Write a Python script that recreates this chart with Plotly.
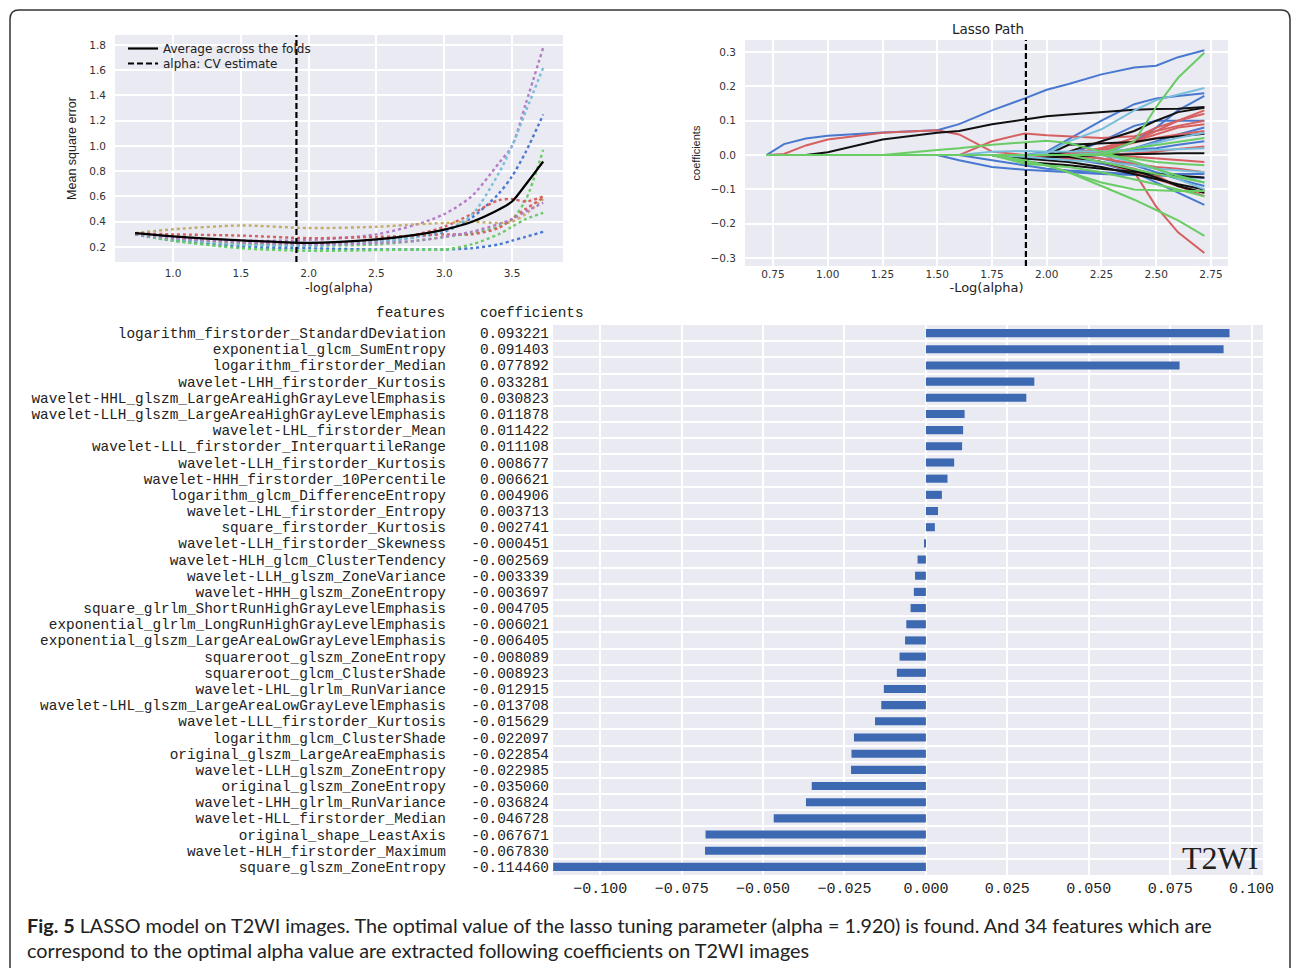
import plotly.graph_objects as go

W, H = 1292, 968
def px(x): return x / W
def py(y): return 1 - y / H

# ---------------- CV curves (top-left) ----------------
cv_x = [0.72, 1.0, 1.5, 2.0, 2.5, 2.8, 3.0, 3.2, 3.4, 3.5, 3.6, 3.73]
cv_mean = [0.31, 0.284, 0.253, 0.232, 0.26, 0.298, 0.337, 0.398, 0.495, 0.56, 0.693, 0.877]
fold_blue_1 = [0.30, 0.27, 0.23, 0.22, 0.24, 0.28, 0.32, 0.43, 0.62, 0.76, 0.95, 1.25]
fold_green_1 = [0.30, 0.26, 0.22, 0.21, 0.22, 0.25, 0.28, 0.31, 0.36, 0.42, 0.57, 0.97]
fold_red_1 = [0.31, 0.27, 0.24, 0.23, 0.25, 0.30, 0.36, 0.46, 0.57, 0.58, 0.56, 0.60]
fold_purple_1 = [0.31, 0.28, 0.25, 0.255, 0.30, 0.38, 0.46, 0.60, 0.86, 1.0, 1.33, 1.78]
fold_yellow = [0.31, 0.34, 0.37, 0.35, 0.36, 0.38, 0.39, 0.40, 0.39, 0.40, 0.46, 0.58]
fold_cyan = [0.30, 0.26, 0.215, 0.21, 0.24, 0.28, 0.33, 0.45, 0.78, 1.0, 1.27, 1.62]
fold_blue_2 = [0.30, 0.25, 0.20, 0.19, 0.18, 0.18, 0.18, 0.19, 0.22, 0.25, 0.28, 0.32]
fold_green_2 = [0.30, 0.25, 0.19, 0.17, 0.175, 0.18, 0.18, 0.22, 0.30, 0.36, 0.42, 0.47]
fold_red_2 = [0.31, 0.30, 0.29, 0.27, 0.28, 0.29, 0.30, 0.30, 0.35, 0.42, 0.50, 0.59]
fold_purple_2 = [0.30, 0.27, 0.24, 0.22, 0.23, 0.25, 0.28, 0.32, 0.38, 0.42, 0.48, 0.55]
cv_alpha = 1.91

# ---------------- Lasso path (top-right) ----------------
path_x = [0.72, 0.8, 0.9, 1.0, 1.25, 1.5, 1.6, 1.75, 1.9, 2.0, 2.1, 2.25, 2.4, 2.5, 2.6, 2.72]
paths_blue = [
    [0, 0.032, 0.048, 0.056, 0.066, 0.072, 0.09, 0.13, 0.165, 0.19, 0.207, 0.235, 0.255, 0.26, 0.285, 0.305],
    [0, 0, 0, 0, 0, 0, 0, 0, 0, 0.01, 0.045, 0.1, 0.148, 0.165, 0.172, 0.18],
    [0, 0, 0, 0, 0, 0, 0, 0, 0, 0, 0, 0, 0.04, 0.08, 0.13, 0.172],
    [0, 0, 0, 0, 0, 0, 0, 0, 0, 0, 0, 0.04, 0.085, 0.1, 0.1, 0.1],
    [0, 0, 0, 0, 0, 0, 0, 0, 0, 0, 0.003, 0.01, 0.015, 0.02, 0.03, 0.04],
    [0, 0, 0, 0, 0, 0, -0.015, -0.035, -0.043, -0.047, -0.05, -0.055, -0.058, -0.055, -0.055, -0.055],
    [0, 0, 0, 0, 0, 0, 0, -0.015, -0.03, -0.04, -0.045, -0.05, -0.055, -0.06, -0.063, -0.067],
    [0, 0, 0, 0, 0, 0, 0, 0, 0, 0, -0.01, -0.025, -0.05, -0.08, -0.11, -0.145],
    [0, 0, 0, 0, 0, 0, 0, 0, 0, 0, 0, -0.01, -0.03, -0.05, -0.07, -0.09],
    [0, 0, 0, 0, 0, 0, 0, 0, 0, 0, 0, 0, 0.02, 0.04, 0.06, 0.08],
]
paths_red = [
    [0, 0.003, 0.028, 0.045, 0.065, 0.072, 0.06, 0.01, 0.0, -0.005, -0.01, -0.02, -0.04, -0.06, -0.09, -0.12],
    [0, 0, 0, 0, 0, 0, 0, 0.04, 0.063, 0.058, 0.055, 0.05, 0.055, 0.07, 0.085, 0.1],
    [0, 0, 0, 0, 0, 0, 0, 0, 0, 0, 0, 0.005, -0.05, -0.15, -0.225, -0.285],
    [0, 0, 0, 0, 0, 0, 0, 0, 0, 0, 0, 0.02, 0.05, 0.08, 0.1, 0.13],
    [0, 0, 0, 0, 0, 0, 0, 0, 0, 0, 0.005, 0.02, 0.04, 0.06, 0.08, 0.09],
    [0, 0, 0, 0, 0, 0, 0, 0, 0, 0, 0, 0.015, 0.035, 0.05, 0.06, 0.07],
    [0, 0, 0, 0, 0, 0, 0, 0, 0, 0, -0.005, -0.02, -0.05, -0.07, -0.09, -0.11],
    [0, 0, 0, 0, 0, 0, 0, 0, 0, 0, 0, -0.01, -0.025, -0.035, -0.04, -0.05],
    [0, 0, 0, 0, 0, 0, 0, 0, 0, 0, 0, 0, 0.005, 0.01, 0.018, 0.025],
    [0, 0, 0, 0, 0, 0, 0, 0, 0, 0, 0, 0, -0.005, -0.01, -0.015, -0.02],
    [0, 0, 0, 0, 0, 0, 0, 0, 0, 0, 0, 0.01, 0.04, 0.07, 0.1, 0.12],
]
paths_black = [
    [0, 0, 0, 0.008, 0.045, 0.065, 0.07, 0.09, 0.105, 0.113, 0.118, 0.125, 0.132, 0.134, 0.135, 0.14],
    [0, 0, 0, 0, 0, 0, 0, 0, 0, 0, 0.01, 0.04, 0.07, 0.1, 0.125, 0.138],
    [0, 0, 0, 0, 0, 0, 0, 0, 0, 0, 0.03, 0.033, 0.038, 0.048, 0.055, 0.062],
    [0, 0, 0, 0, 0, 0, 0, 0, -0.02, -0.025, -0.03, -0.04, -0.05, -0.055, -0.06, -0.065],
    [0, 0, 0, 0, 0, 0, 0, 0, -0.01, -0.015, -0.02, -0.035, -0.055, -0.07, -0.085, -0.1],
    [0, 0, 0, 0, 0, 0, 0, 0, 0, 0, -0.005, -0.02, -0.045, -0.065, -0.09, -0.11],
    [0, 0, 0, 0, 0, 0, 0, 0, -0.01, -0.008, -0.004, 0.0, 0.003, 0.005, 0.005, 0.005],
]
paths_cyan = [
    [0, 0, 0, 0, 0, 0, 0, 0, 0, 0.005, 0.04, 0.075, 0.13, 0.16, 0.175, 0.195],
    [0, 0, 0, 0, 0, 0, 0, 0, 0, 0, 0, 0.005, 0.02, 0.035, 0.05, 0.065],
    [0, 0, 0, 0, 0, 0, 0, 0, -0.005, -0.01, -0.015, -0.02, -0.03, -0.04, -0.045, -0.05],
    [0, 0, 0, 0, 0, 0, 0, 0.01, 0.012, 0.01, 0.01, 0.01, 0.012, 0.015, 0.018, 0.02],
    [0, 0, 0, 0, 0, 0, 0, 0, 0, 0, 0, 0, -0.02, -0.04, -0.07, -0.1],
]
paths_green = [
    [0, 0, 0, 0, 0, 0.015, 0.02, 0.03, 0.038, 0.042, 0.035, 0.01, -0.02, -0.04, -0.06, -0.08],
    [0, 0, 0, 0, 0, 0, 0, 0, 0, 0, 0, 0.003, 0.04, 0.14, 0.225, 0.298],
    [0, 0, 0, 0, 0, 0, 0, 0, -0.02, -0.03, -0.05, -0.09, -0.13, -0.16, -0.19, -0.235],
    [0, 0, 0, 0, 0, 0, 0, 0, -0.015, -0.03, -0.05, -0.08, -0.1, -0.103, -0.105, -0.105],
    [0, 0, 0, 0, 0, 0, 0, 0, -0.025, -0.03, -0.035, -0.05, -0.07, -0.085, -0.1, -0.12],
    [0, 0, 0, 0, 0, 0, 0, 0, 0, 0, 0, -0.02, -0.04, -0.055, -0.065, -0.08],
    [0, 0, 0, 0, 0, 0, 0, 0, 0, 0, 0, 0, 0.02, 0.03, 0.04, 0.05],
    [0, 0, 0, 0, 0, 0, 0, 0, 0, 0, 0, 0, -0.01, -0.02, -0.025, -0.03],
]
path_alpha = 1.905

# ---------------- Selected features (bottom) ----------------
features = [
    "logarithm_firstorder_StandardDeviation",
    "exponential_glcm_SumEntropy",
    "logarithm_firstorder_Median",
    "wavelet-LHH_firstorder_Kurtosis",
    "wavelet-HHL_glszm_LargeAreaHighGrayLevelEmphasis",
    "wavelet-LLH_glszm_LargeAreaHighGrayLevelEmphasis",
    "wavelet-LHL_firstorder_Mean",
    "wavelet-LLL_firstorder_InterquartileRange",
    "wavelet-LLH_firstorder_Kurtosis",
    "wavelet-HHH_firstorder_10Percentile",
    "logarithm_glcm_DifferenceEntropy",
    "wavelet-LHL_firstorder_Entropy",
    "square_firstorder_Kurtosis",
    "wavelet-LLH_firstorder_Skewness",
    "wavelet-HLH_glcm_ClusterTendency",
    "wavelet-LLH_glszm_ZoneVariance",
    "wavelet-HHH_glszm_ZoneEntropy",
    "square_glrlm_ShortRunHighGrayLevelEmphasis",
    "exponential_glrlm_LongRunHighGrayLevelEmphasis",
    "exponential_glszm_LargeAreaLowGrayLevelEmphasis",
    "squareroot_glszm_ZoneEntropy",
    "squareroot_glcm_ClusterShade",
    "wavelet-LHL_glrlm_RunVariance",
    "wavelet-LHL_glszm_LargeAreaLowGrayLevelEmphasis",
    "wavelet-LLL_firstorder_Kurtosis",
    "logarithm_glcm_ClusterShade",
    "original_glszm_LargeAreaEmphasis",
    "wavelet-LLH_glszm_ZoneEntropy",
    "original_glszm_ZoneEntropy",
    "wavelet-LHH_glrlm_RunVariance",
    "wavelet-HLL_firstorder_Median",
    "original_shape_LeastAxis",
    "wavelet-HLH_firstorder_Maximum",
    "square_glszm_ZoneEntropy",
]
coefficients = [
    0.093221, 0.091403, 0.077892, 0.033281, 0.030823, 0.011878, 0.011422,
    0.011108, 0.008677, 0.006621, 0.004906, 0.003713, 0.002741, -0.000451,
    -0.002569, -0.003339, -0.003697, -0.004705, -0.006021, -0.006405,
    -0.008089, -0.008923, -0.012915, -0.013708, -0.015629, -0.022097,
    -0.022854, -0.022985, -0.035060, -0.036824, -0.046728, -0.067671,
    -0.067830, -0.114460,
]
coef_ticks = [-0.1, -0.075, -0.05, -0.025, 0.0, 0.025, 0.05, 0.075, 0.1]

BLUE, GREEN, RED = "#4878CF", "#6ACC65", "#D65F5F"
PURPLE, YELLOW, CYAN = "#B47CC7", "#C4AD66", "#77BEDB"
BG = "#EAEAF2"
SANS = "DejaVu Sans, Liberation Sans, sans-serif"
NARROW = "Liberation Sans, Arial, sans-serif"
MONO = "Liberation Mono, DejaVu Sans Mono, monospace"
TICKC = "#333333"

fig = go.Figure()

# --- top-left traces
folds = [(fold_blue_1, BLUE), (fold_green_1, GREEN), (fold_red_1, RED),
         (fold_purple_1, PURPLE), (fold_yellow, YELLOW), (fold_cyan, CYAN),
         (fold_blue_2, BLUE), (fold_green_2, GREEN), (fold_red_2, RED),
         (fold_purple_2, PURPLE)]
for vals, col in folds:
    fig.add_trace(go.Scatter(x=cv_x, y=vals, mode="lines", xaxis="x", yaxis="y",
                             line=dict(color=col, width=2.4, dash="dot", shape="spline", smoothing=0.8),
                             showlegend=False, hoverinfo="skip"))
fig.add_trace(go.Scatter(x=cv_x, y=cv_mean, mode="lines", xaxis="x", yaxis="y",
                         name="Average across the folds", legend="legend",
                         line=dict(color="black", width=2.2, shape="spline", smoothing=0.8)))
Y1R = [0.081, 1.879]
fig.add_trace(go.Scatter(x=[cv_alpha, cv_alpha], y=Y1R, mode="lines", xaxis="x", yaxis="y",
                         name="alpha: CV estimate", legend="legend2",
                         line=dict(color="black", width=2.2, dash="6px,3px")))

# --- top-right traces
for group, col in [(paths_blue, BLUE), (paths_red, RED), (paths_black, "#111111"),
                   (paths_cyan, CYAN), (paths_green, GREEN)]:
    for vals in group:
        fig.add_trace(go.Scatter(x=path_x, y=vals, mode="lines", xaxis="x2", yaxis="y2",
                                 line=dict(color=col, width=2), showlegend=False,
                                 hoverinfo="skip"))
Y2R = [-0.323, 0.335]
fig.add_trace(go.Scatter(x=[path_alpha, path_alpha], y=Y2R, mode="lines", xaxis="x2", yaxis="y2",
                         line=dict(color="black", width=2.2, dash="6px,3px"),
                         showlegend=False, hoverinfo="skip"))

# --- bottom bar chart
idx = list(range(len(features)))
fig.add_trace(go.Bar(x=coefficients, y=idx, orientation="h", xaxis="x3", yaxis="y3",
                     marker=dict(color="#3D68B2", line=dict(width=0)), width=0.5,
                     showlegend=False, hoverinfo="skip"))
fig.add_trace(go.Scatter(x=coefficients, y=idx, mode="markers", xaxis="x3", yaxis="y4",
                         marker=dict(opacity=0), showlegend=False, hoverinfo="skip"))

grid = dict(showgrid=True, gridcolor="white", gridwidth=1.5, zeroline=False,
            showline=False, ticks="", automargin=False)
legfont = dict(family=SANS, size=12, color="#222")

fig.update_layout(
    width=W, height=H, margin=dict(l=0, r=0, t=0, b=0),
    paper_bgcolor="white", plot_bgcolor=BG,
    showlegend=True,
    legend=dict(x=px(123), y=py(34), xanchor="left", yanchor="top",
                bgcolor="rgba(0,0,0,0)", font=legfont, itemwidth=30),
    legend2=dict(x=px(123), y=py(49), xanchor="left", yanchor="top",
                 bgcolor="rgba(0,0,0,0)", font=legfont, itemwidth=30),
    xaxis=dict(domain=[px(115), px(563)], anchor="y", range=[0.572, 3.876],
               tickvals=[1.0, 1.5, 2.0, 2.5, 3.0, 3.5], tickformat=".1f",
               tickfont=dict(family=SANS, size=10.5, color=TICKC), ticklabelstandoff=3,
               title=dict(text="-log(alpha)", font=dict(family=SANS, size=12.5, color="#222"), standoff=5),
               **grid),
    yaxis=dict(domain=[py(262), py(35)], anchor="x", range=Y1R,
               tickvals=[0.2, 0.4, 0.6, 0.8, 1.0, 1.2, 1.4, 1.6, 1.8], tickformat=".1f",
               tickfont=dict(family=SANS, size=10.5, color=TICKC), ticklabelstandoff=8,
               title=dict(text="Mean square error", font=dict(family=NARROW, size=12.5, color="#222"), standoff=9),
               **grid),
    xaxis2=dict(domain=[px(745), px(1228)], anchor="y2", range=[0.622, 2.828],
                tickvals=[0.75, 1.0, 1.25, 1.5, 1.75, 2.0, 2.25, 2.5, 2.75], tickformat=".2f",
                tickfont=dict(family=SANS, size=10.5, color=TICKC),
                title=dict(text="-Log(alpha)", font=dict(family=SANS, size=13, color="#222"), standoff=4),
                **grid),
    yaxis2=dict(domain=[py(266), py(40)], anchor="x2", range=Y2R,
                tickvals=[-0.3, -0.2, -0.1, 0.0, 0.1, 0.2, 0.3], tickformat=".1f",
                tickfont=dict(family=SANS, size=10.5, color=TICKC), ticklabelstandoff=8,
                title=dict(text="coefficients", font=dict(family=NARROW, size=11, color="#222"), standoff=7),
                **grid),
    xaxis3=dict(domain=[px(553), px(1263)], anchor="y3", range=[-0.1145, 0.1035],
                tickvals=coef_ticks, tickformat=".3f",
                tickfont=dict(family=MONO, size=15, color="#222"), ticklabelstandoff=2,
                showgrid=True, gridcolor="white", gridwidth=2, zeroline=False,
                showline=False, ticks="", automargin=False),
    yaxis3=dict(domain=[py(875), py(325)], anchor="x3", range=[33.5, -0.5],
                tickmode="array", tickvals=idx, ticktext=[f"{v:.6f}" for v in coefficients],
                tickfont=dict(family=MONO, size=14.4, color="#222"), ticklabelstandoff=3,
                showgrid=False, zeroline=False, showline=False, ticks="", automargin=False,
                minor=dict(tickmode="array", tickvals=[i + 0.5 for i in idx[:-1]],
                           showgrid=True, gridcolor="white", gridwidth=2, ticks="")),
    yaxis4=dict(overlaying="y3", anchor="free", position=px(447), side="left",
                range=[33.5, -0.5], tickmode="array", tickvals=idx, ticktext=features,
                tickfont=dict(family=MONO, size=14.4, color="#222"), ticklabelstandoff=1,
                showgrid=False, zeroline=False, showline=False, ticks="", automargin=False),
)

ann = [
    dict(text="Lasso Path", x=px(988), y=py(29), font=dict(family=SANS, size=13.5, color="#222")),
    dict(text="features", x=px(447), y=py(313), xanchor="right",
         font=dict(family=MONO, size=14.4, color="#222")),
    dict(text="coefficients", x=px(478), y=py(313), xanchor="left",
         font=dict(family=MONO, size=14.4, color="#222")),
    dict(text="T2WI", x=px(1260), y=py(858), xanchor="right",
         font=dict(family="Liberation Serif, serif", size=32, color="#222")),
    dict(text="<b>Fig. 5</b> LASSO model on T2WI images. The optimal value of the lasso tuning parameter "
              "(alpha = 1.920) is found. And 34 features which are",
         x=px(25), y=py(925), xanchor="left",
         font=dict(family="Lato, sans-serif", size=19.8, color="#222")),
    dict(text="correspond to the optimal alpha value are extracted following coefficients on T2WI images",
         x=px(25), y=py(950), xanchor="left",
         font=dict(family="Lato, sans-serif", size=19.8, color="#222")),
]
for a in ann:
    a.setdefault("xanchor", "center")
    a.update(xref="paper", yref="paper", yanchor="middle", showarrow=False)
fig.update_layout(annotations=ann)

# frame with rounded top corners
x0, x1, yt, yb, r = px(10), px(1290), py(10), py(975), 9
fig.add_shape(type="path", xref="paper", yref="paper",
              path=(f"M {x0},{yb} L {x0},{py(10 + r)} Q {x0},{yt} {px(10 + r)},{yt} "
                    f"L {px(1290 - r)},{yt} Q {x1},{yt} {x1},{py(10 + r)} L {x1},{yb}"),
              line=dict(color="#333333", width=1.5))

fig.write_html("out.html", config={"displayModeBar": False},
               post_script="document.body.style.margin='0px';document.body.style.overflow='hidden';")
